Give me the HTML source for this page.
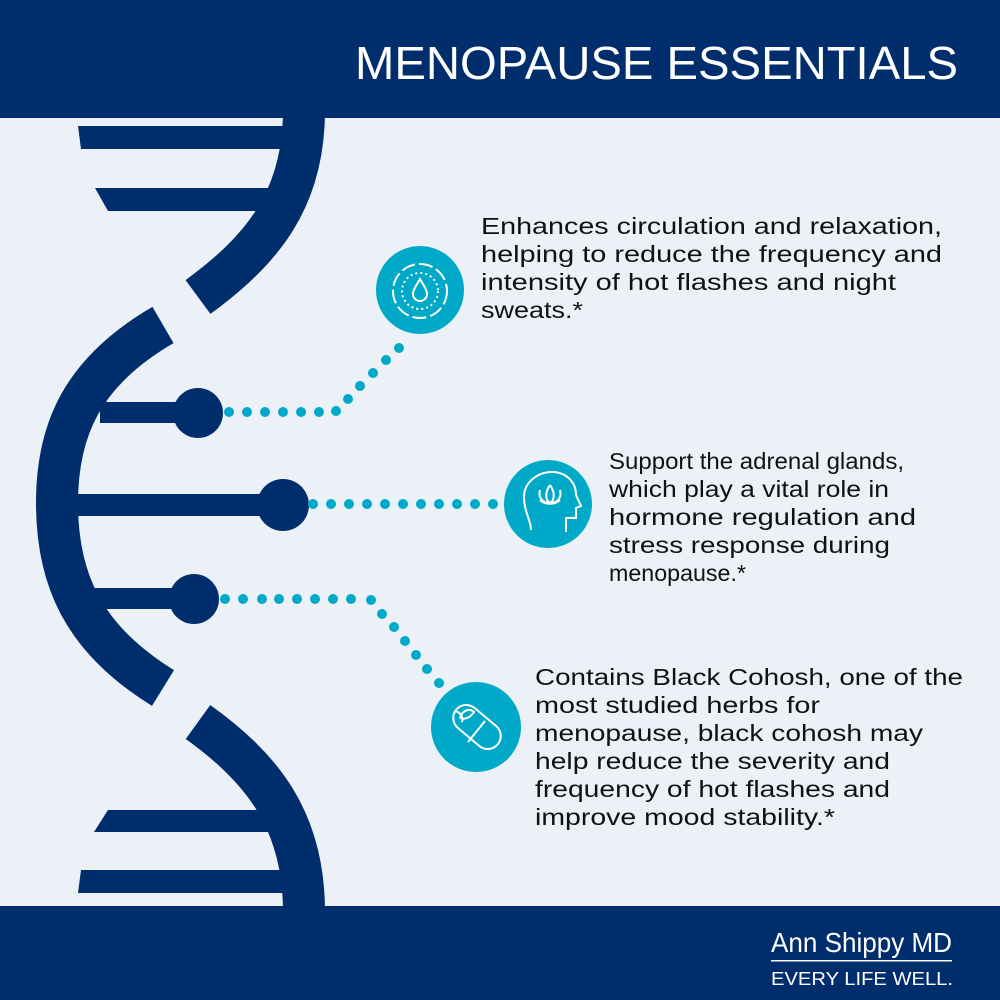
<!DOCTYPE html>
<html><head><meta charset="utf-8"><style>
html,body{margin:0;padding:0;background:#ebf1f6}
svg{display:block}
</style></head><body>
<svg width="1000" height="1000" viewBox="0 0 1000 1000" xmlns="http://www.w3.org/2000/svg" font-family="'Liberation Sans', sans-serif">
<rect width="1000" height="1000" fill="#ebf1f6"/>
<!-- rungs -->
<g fill="#002e6d">
<polygon points="78,126 295,126 295,149 81,149"/>
<polygon points="95,188 287,188 287,211 108,211"/>
<rect x="100" y="402" width="98" height="21"/>
<circle cx="198" cy="413" r="25"/>
<rect x="70" y="494" width="213" height="22"/>
<circle cx="283" cy="505" r="26"/>
<rect x="95" y="588" width="100" height="21"/>
<circle cx="194" cy="599" r="25"/>
<polygon points="108,810 286,810 286,832 94,832"/>
<polygon points="81,870 295,870 295,893 78,893"/>
</g>
<!-- strands -->
<g fill="none" stroke="#002e6d" stroke-width="42">
<path d="M304,110 C304,200 262,250 198,297"/>
<path d="M163,325 C82,372 57,430 57,503 C57,578 82,638 163,688"/>
<path d="M198,722 C262,768 304,820 304,912"/>
</g>
<!-- header / footer -->
<rect x="0" y="0" width="1000" height="118" fill="#002e6d"/>
<text x="958" y="79" fill="#fff" font-size="46" text-anchor="end" textLength="603" lengthAdjust="spacingAndGlyphs">MENOPAUSE ESSENTIALS</text>
<rect x="0" y="906" width="1000" height="94" fill="#002e6d"/>
<text x="771" y="952" fill="#fff" font-size="28" textLength="181" lengthAdjust="spacingAndGlyphs">Ann Shippy MD</text>
<rect x="771" y="960" width="181" height="1.5" fill="#fff"/>
<text x="771" y="985" fill="#fff" font-size="18" textLength="182" lengthAdjust="spacingAndGlyphs">EVERY LIFE WELL.</text>
<!-- dots -->
<g fill="#00a9c8">
<circle cx="229" cy="412" r="5"/><circle cx="247" cy="412" r="5"/><circle cx="265" cy="412" r="5"/><circle cx="283" cy="412" r="5"/><circle cx="301" cy="412" r="5"/><circle cx="319" cy="412" r="5"/><circle cx="336" cy="411" r="5"/>
<circle cx="348" cy="399" r="5"/><circle cx="360" cy="386" r="5"/><circle cx="373" cy="373" r="5"/><circle cx="386" cy="360" r="5"/><circle cx="399" cy="348" r="5"/>
<circle cx="313" cy="504" r="5"/><circle cx="331" cy="504" r="5"/><circle cx="349" cy="504" r="5"/><circle cx="367" cy="504" r="5"/><circle cx="385" cy="504" r="5"/><circle cx="403" cy="504" r="5"/><circle cx="421" cy="504" r="5"/><circle cx="439" cy="504" r="5"/><circle cx="457" cy="504" r="5"/><circle cx="475" cy="504" r="5"/><circle cx="493" cy="504" r="5"/>
<circle cx="225" cy="599" r="5"/><circle cx="243" cy="599" r="5"/><circle cx="262" cy="599" r="5"/><circle cx="279" cy="599" r="5"/><circle cx="297" cy="599" r="5"/><circle cx="315" cy="599" r="5"/><circle cx="333" cy="599" r="5"/><circle cx="351" cy="599" r="5"/><circle cx="371" cy="600" r="5"/>
<circle cx="382" cy="614" r="5"/><circle cx="394" cy="627" r="5"/><circle cx="405" cy="641" r="5"/><circle cx="416" cy="655" r="5"/><circle cx="427" cy="669" r="5"/><circle cx="439" cy="683" r="5"/>
</g>
<!-- icons -->
<circle cx="420" cy="290" r="44" fill="#00a9c8"/>
<g fill="none" stroke="#fff" stroke-width="2">
<circle cx="420" cy="291" r="27" stroke-dasharray="14 4"/>
<circle cx="420" cy="291" r="18" stroke-dasharray="2 3"/>
<path d="M420,279 C416,286 413,290 413,294 A7,7 0 0 0 427,294 C427,290 424,286 420,279 Z"/>
</g>
<circle cx="548" cy="504" r="44" fill="#00a9c8"/>
<g fill="none" stroke="#fff" stroke-width="2">
<path d="M531,530 C531,520 524,512 524,497 C524,482 538,472 552,472 C566,472 576,482 576,495 L581,506 L576,508 L576,518 L566,518 L566,532"/>
<path d="M540,500 C545,505 555,505 560,500 M550,485 C545,492 545,500 550,503 C555,500 555,492 550,485 M540,490 C538,497 542,503 550,503 M560,490 C562,497 558,503 550,503"/>
</g>
<circle cx="476" cy="727" r="45" fill="#00a9c8"/>
<g fill="none" stroke="#fff" stroke-width="2">
<rect x="450" y="714" width="54" height="26" rx="13" transform="rotate(40 477 727)"/>
<line x1="468" y1="742" x2="485" y2="721"/>
<path d="M460,718 C462,710 470,708 474,712 C470,718 464,720 460,718 M462,722 C464,716 458,710 454,712"/>
</g>
<!-- texts -->
<g fill="#111" font-size="23">
<text x="481" y="234" textLength="461" lengthAdjust="spacingAndGlyphs">Enhances circulation and relaxation,</text>
<text x="481" y="262" textLength="461" lengthAdjust="spacingAndGlyphs">helping to reduce the frequency and</text>
<text x="481" y="290" textLength="415" lengthAdjust="spacingAndGlyphs">intensity of hot flashes and night</text>
<text x="481" y="318" textLength="102" lengthAdjust="spacingAndGlyphs">sweats.*</text>
<text x="609" y="469" textLength="295" lengthAdjust="spacingAndGlyphs">Support the adrenal glands,</text>
<text x="609" y="497" textLength="280" lengthAdjust="spacingAndGlyphs">which play a vital role in</text>
<text x="609" y="525" textLength="307" lengthAdjust="spacingAndGlyphs">hormone regulation and</text>
<text x="609" y="553" textLength="281" lengthAdjust="spacingAndGlyphs">stress response during</text>
<text x="609" y="581" textLength="137" lengthAdjust="spacingAndGlyphs">menopause.*</text>
<text x="535" y="685" textLength="428" lengthAdjust="spacingAndGlyphs">Contains Black Cohosh, one of the</text>
<text x="535" y="713" textLength="285" lengthAdjust="spacingAndGlyphs">most studied herbs for</text>
<text x="535" y="741" textLength="388" lengthAdjust="spacingAndGlyphs">menopause, black cohosh may</text>
<text x="535" y="769" textLength="355" lengthAdjust="spacingAndGlyphs">help reduce the severity and</text>
<text x="535" y="797" textLength="355" lengthAdjust="spacingAndGlyphs">frequency of hot flashes and</text>
<text x="535" y="825" textLength="300" lengthAdjust="spacingAndGlyphs">improve mood stability.*</text>
</g>
</svg>
</body></html>
